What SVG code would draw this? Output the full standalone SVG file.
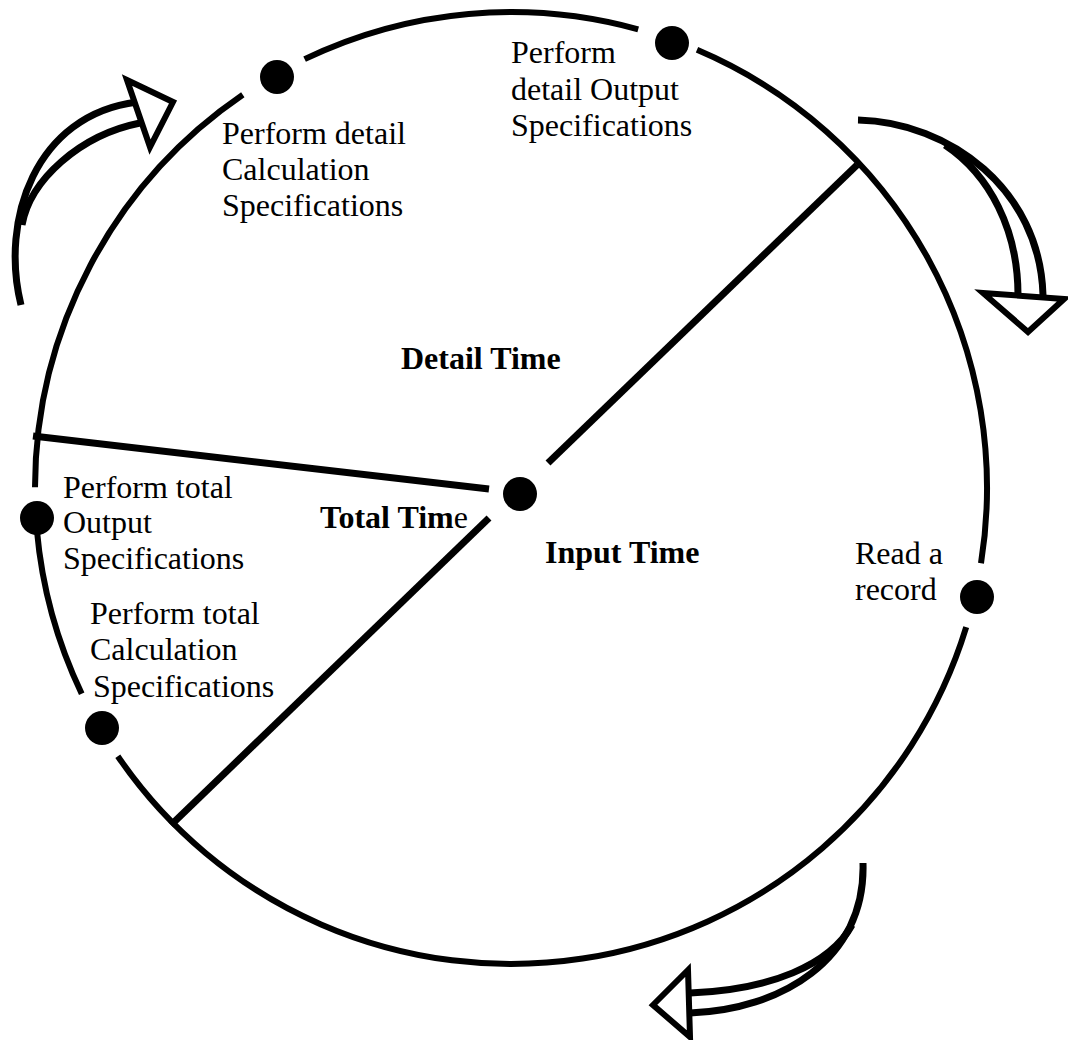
<svg xmlns="http://www.w3.org/2000/svg" width="1068" height="1040" viewBox="0 0 1068 1040">
<style>
.ring{fill:none;stroke:#000;stroke-width:6}
.spoke{stroke:#000;stroke-width:7;stroke-linecap:butt}
.dot{fill:#000}
.arr{fill:none;stroke:#000;stroke-width:7}
.head{fill:#fff;stroke:#000;stroke-width:6;stroke-linejoin:miter}
.t{font-family:"Liberation Serif","Times New Roman",serif;font-size:32px;fill:#000}
.b{font-weight:bold}
</style>
<rect width="1068" height="1040" fill="#fff"/>
<g id="connectors">
<path class="ring" d="M966.2,627.2 A476,476 0 0 1 117.8,756.2"/>
<path class="ring" d="M81.7,693.7 A476,476 0 0 1 36.9,530.3"/>
<path class="ring" d="M35,487.2 A476,476 0 0 1 242.8,94.8"/>
<path class="ring" d="M304.6,59.1 A476,476 0 0 1 638.2,29.3"/>
<path class="ring" d="M697,49.8 A476,476 0 0 1 981,563.3"/>
<line class="spoke" x1="857" y1="165" x2="548" y2="463"/>
<line class="spoke" x1="33" y1="436" x2="489" y2="489"/>
<line class="spoke" x1="489" y1="518" x2="171" y2="825"/>
</g>
<g id="arrow-top-left">
<path class="arr" d="M21,305 C0,220 35,115 137,102"/>
<path class="arr" d="M22,225 C30,180 80,135 140,123"/>
<polygon class="head" points="127,80 173,102 150,147"/>
</g>
<g id="arrow-top-right">
<path class="arr" d="M858,120 C950,122 1040,190 1043,295"/>
<path class="arr" d="M945,145 C990,175 1018,230 1018,295"/>
<polygon class="head" points="983,293 1064,299 1028,332"/>
</g>
<g id="arrow-bottom">
<path class="arr" d="M863,863 C866,960 780,1010 690,1013"/>
<path class="arr" d="M852,925 C830,965 770,990 690,993"/>
<polygon class="head" points="688,970 653,1005 690,1037"/>
</g>
<g id="center">
<circle class="dot" cx="520" cy="494" r="17"/>
</g>
<g id="detail-calc">
<circle class="dot" cx="277" cy="77" r="17"/>
<text class="t" x="222" y="144">Perform detail</text>
<text class="t" x="222" y="180">Calculation</text>
<text class="t" x="222" y="216">Specifications</text>
</g>
<g id="detail-output">
<circle class="dot" cx="672" cy="43" r="17"/>
<text class="t" x="511" y="63">Perform</text>
<text class="t" x="511" y="100">detail Output</text>
<text class="t" x="511" y="136">Specifications</text>
</g>
<g id="read-record">
<circle class="dot" cx="977" cy="597" r="17"/>
<text class="t" x="855" y="564">Read a</text>
<text class="t" x="855" y="600">record</text>
</g>
<g id="total-output">
<circle class="dot" cx="37" cy="518" r="17"/>
<text class="t" x="63" y="498">Perform total</text>
<text class="t" x="63" y="533">Output</text>
<text class="t" x="63" y="569">Specifications</text>
</g>
<g id="total-calc">
<circle class="dot" cx="102" cy="728" r="17"/>
<text class="t" x="90" y="624">Perform total</text>
<text class="t" x="90" y="660">Calculation</text>
<text class="t" x="93" y="697">Specifications</text>
</g>
<g id="labels">
<text class="t b" x="401" y="369">Detail Time</text>
<text class="t" x="320" y="528"><tspan class="b">Total Tim</tspan>e</text>
<text class="t b" x="545" y="563">Input Time</text>
</g>
</svg>
